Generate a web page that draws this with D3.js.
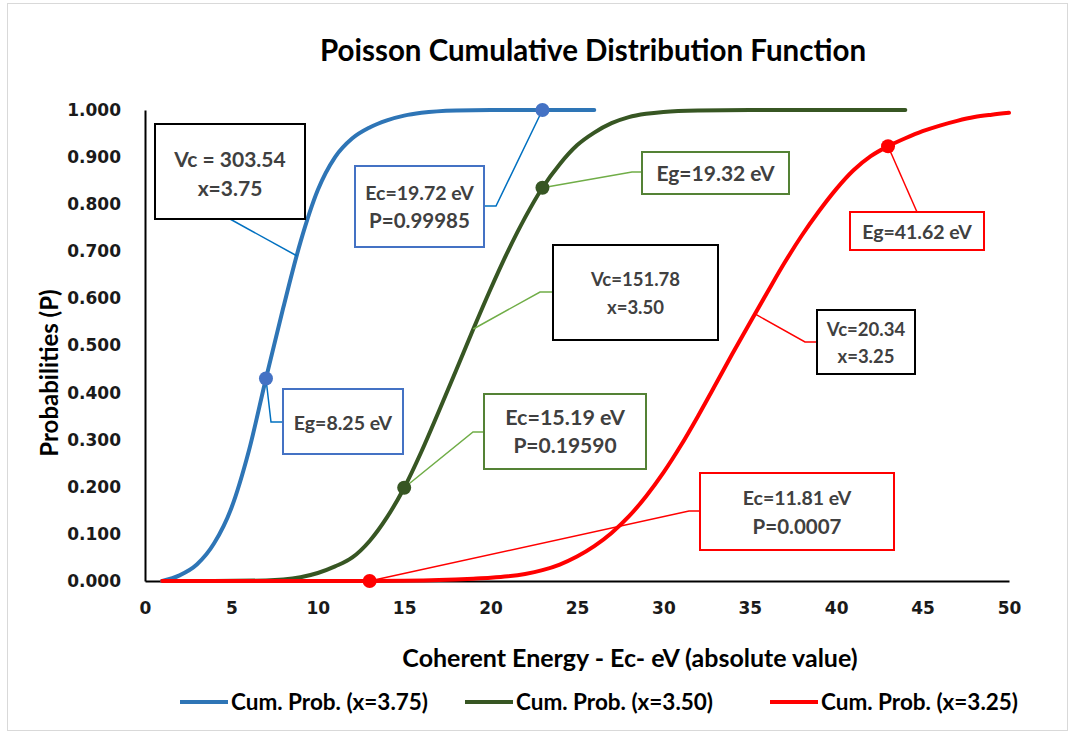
<!DOCTYPE html>
<html lang="en">
<head>
<meta charset="UTF-8">
<title>Poisson CDF</title>
<script src="https://d3js.org/d3.v7.min.js"></script>
<style>
  body { margin: 0; background: #fff; }
  svg text { font-family: "DejaVu Sans", sans-serif; }
  .box text { font-family: Lato, "Open Sans", sans-serif; font-weight: bold; fill: #404040; }
</style>
</head>
<body>
<svg id="chart" width="1071" height="734"></svg>
<script>
// values
const blueX  = [1, 2, 3, 4, 5, 6, 7, 8, 9, 10, 11, 12, 13, 14, 15, 16, 18, 20, 23, 26];
const blueY  = [0, 0.012, 0.035, 0.08, 0.155, 0.275, 0.43, 0.58, 0.72, 0.83, 0.90, 0.94, 0.963, 0.978, 0.988, 0.994, 0.999, 1, 1, 1];
const greenX = [1, 4, 7, 8, 9, 10, 11, 12, 13, 14, 15, 16, 17, 18, 19, 20, 21, 22, 23, 24, 25, 26, 27, 28, 29, 30, 32, 35, 40, 44];
const greenY = [0, 0, 0.001, 0.003, 0.008, 0.017, 0.031, 0.05, 0.085, 0.135, 0.198, 0.275, 0.36, 0.447, 0.535, 0.62, 0.70, 0.772, 0.835, 0.885, 0.925, 0.952, 0.972, 0.985, 0.992, 0.996, 0.999, 1, 1, 1];
const redX   = [1, 5, 10, 13, 15, 17, 19, 20, 21, 22, 23, 24, 25, 26, 27, 28, 29, 30, 31, 32, 33, 34, 35, 36, 37, 38, 39, 40, 41, 42, 43, 44, 45, 46, 47, 48, 49, 50];
const redY   = [0, 0, 0, 0, 0.0005, 0.002, 0.005, 0.007, 0.01, 0.015, 0.023, 0.035, 0.052, 0.074, 0.102, 0.137, 0.18, 0.23, 0.287, 0.35, 0.416, 0.483, 0.548, 0.612, 0.675, 0.733, 0.785, 0.832, 0.872, 0.902, 0.923, 0.94, 0.955, 0.967, 0.977, 0.985, 0.99, 0.994];

const seriesNames = ["Cum. Prob. (x=3.75)", "Cum. Prob. (x=3.50)", "Cum. Prob. (x=3.25)"];
const seriesColors = ["#2e75b6", "#375623", "#ff0000"];

// highlighted points [x, y]
const bluePts  = [[7, 0.43], [23, 1.0]];
const greenPts = [[15, 0.198], [23, 0.835]];
const redPts   = [[13, 0.0], [43, 0.923]];

const xTicks = [0, 5, 10, 15, 20, 25, 30, 35, 40, 45, 50];
const yTicks = [0, 0.1, 0.2, 0.3, 0.4, 0.5, 0.6, 0.7, 0.8, 0.9, 1.0];

const svg = d3.select("#chart");

svg.append("rect").attr("x", 7.5).attr("y", 3.5).attr("width", 1060).attr("height", 727)
  .attr("fill", "#fff").attr("stroke", "#d9d9d9");

const x = d3.scaleLinear().domain([0, 50]).range([145, 1009]);
const y = d3.scaleLinear().domain([0, 1]).range([581, 110]);

// title
svg.append("text").attr("x", 593).attr("y", 61).attr("text-anchor", "middle")
  .style("font-family", "Lato, sans-serif").style("font-weight", "bold").style("font-size", "29.5px")
  .attr("fill", "#000").text("Poisson Cumulative Distribution Function");

// axes
const xAxis = svg.append("g").attr("transform", "translate(0,581)")
  .call(d3.axisBottom(x).tickValues(xTicks).tickSize(0).tickPadding(21).tickFormat(d3.format("d")));
const yAxis = svg.append("g").attr("transform", "translate(145,0)")
  .call(d3.axisLeft(y).tickValues(yTicks).tickSize(0).tickPadding(24).tickFormat(d3.format(".3f")));
[xAxis, yAxis].forEach(g => {
  g.select(".domain").attr("stroke", "#000").attr("stroke-width", 2);
  g.selectAll("text").style("font-family", "DejaVu Sans, sans-serif").style("font-weight", "bold")
    .style("font-size", "17px").attr("fill", "#1a1a1a");
});

// axis titles
svg.append("text").attr("x", 630).attr("y", 667).attr("text-anchor", "middle")
  .style("font-family", "Lato, sans-serif").style("font-weight", "bold").style("font-size", "25px")
  .attr("fill", "#000").text("Coherent Energy - Ec- eV (absolute value)");

svg.append("text").attr("transform", "translate(58,373) rotate(-90)").attr("text-anchor", "middle")
  .style("font-family", "Lato, sans-serif").style("font-weight", "bold").style("font-size", "24px")
  .attr("fill", "#000").text("Probabilities (P)");

// curves
const line = d3.line().x(d => x(d[0])).y(d => y(d[1])).curve(d3.curveMonotoneX);
const curves = [d3.zip(blueX, blueY), d3.zip(greenX, greenY), d3.zip(redX, redY)];
// red on top, as in the picture near zero
[1, 0, 2].forEach(i => {
  svg.append("path").datum(curves[i]).attr("d", line).attr("fill", "none")
    .attr("stroke", seriesColors[i]).attr("stroke-width", 4).attr("stroke-linecap", "round");
});

function callout(b) {
  const g = svg.append("g").attr("class", "box");
  g.append("polyline").attr("points", b.leader.map(p => p.join(",")).join(" "))
    .attr("fill", "none").attr("stroke", b.lineColor).attr("stroke-width", 1.5);
  g.append("rect").attr("x", b.x).attr("y", b.y).attr("width", b.w).attr("height", b.h)
    .attr("fill", "#fff").attr("stroke", b.border).attr("stroke-width", 2);
  b.lines.forEach((ln, i) => {
    g.append("text").attr("x", b.x + b.w / 2).attr("y", b.ty[i]).attr("text-anchor", "middle")
      .style("font-size", b.fs[i] + "px").text(ln);
  });
}

const blueLead = "#0070c0", greenLead = "#70ad47", redLead = "#ff0000";

callout({x: 155, y: 124, w: 150, h: 95, border: "#000", lineColor: blueLead, fs: [21, 21],
  leader: [[230, 219], [x(8.8), y(0.69)]],
  lines: ["Vc = 303.54", "x=3.75"], ty: [167, 196]});
callout({x: 355, y: 166, w: 129, h: 81, border: "#4472c4", lineColor: blueLead, fs: [19.5, 20.5],
  leader: [[484, 206], [496, 206], [x(bluePts[1][0]), y(bluePts[1][1])]],
  lines: ["Ec=19.72 eV", "P=0.99985"], ty: [200, 228]});
callout({x: 283, y: 389, w: 120, h: 65, border: "#4472c4", lineColor: blueLead, fs: [19.5],
  leader: [[283, 422], [271, 422], [x(bluePts[0][0]), y(bluePts[0][1])]],
  lines: ["Eg=8.25 eV"], ty: [430]});
callout({x: 642, y: 152, w: 147, h: 42, border: "#548235", lineColor: greenLead, fs: [21],
  leader: [[642, 172], [632, 172], [x(greenPts[1][0]), y(greenPts[1][1])]],
  lines: ["Eg=19.32 eV"], ty: [181]});
callout({x: 553, y: 245, w: 165, h: 95, border: "#000", lineColor: greenLead, fs: [18.5, 18.5],
  leader: [[553, 292], [540, 292], [x(19), y(0.535)]],
  lines: ["Vc=151.78", "x=3.50"], ty: [286, 314]});
callout({x: 484, y: 394, w: 162, h: 75, border: "#548235", lineColor: greenLead, fs: [21.5, 21],
  leader: [[484, 432], [473, 432], [x(greenPts[0][0]), y(greenPts[0][1])]],
  lines: ["Ec=15.19 eV", "P=0.19590"], ty: [425, 453]});
callout({x: 817, y: 310, w: 98, h: 64, border: "#000", lineColor: redLead, fs: [18.5, 18.5],
  leader: [[817, 342], [805, 342], [x(35.3), y(0.567)]],
  lines: ["Vc=20.34", "x=3.25"], ty: [336, 363]});
callout({x: 850, y: 212, w: 134, h: 38, border: "#ff0000", lineColor: redLead, fs: [19.5],
  leader: [[917, 212], [x(redPts[1][0]), y(redPts[1][1])]],
  lines: ["Eg=41.62 eV"], ty: [239]});
callout({x: 700, y: 473, w: 194, h: 77, border: "#ff0000", lineColor: redLead, fs: [19.5, 20.5],
  leader: [[700, 511], [689, 511], [x(redPts[0][0]), y(redPts[0][1])]],
  lines: ["Ec=11.81 eV", "P=0.0007"], ty: [505, 534]});

// markers
[[bluePts, "#4472c4"], [greenPts, "#375623"], [redPts, "#ff0000"]].forEach(([pts, c]) => {
  svg.selectAll(null).data(pts).enter().append("circle")
    .attr("cx", d => x(d[0])).attr("cy", d => y(d[1])).attr("r", 7).attr("fill", c);
});

// legend
const legendX = [180, 465, 770];
seriesNames.forEach((name, i) => {
  const g = svg.append("g").attr("transform", `translate(${legendX[i]},702)`);
  g.append("line").attr("x1", 0).attr("x2", 48).attr("stroke", seriesColors[i]).attr("stroke-width", 4);
  g.append("text").attr("x", 51).attr("y", 8).style("font-family", "Lato, sans-serif")
    .style("font-weight", "bold").style("font-size", "22.5px").attr("fill", "#000").text(name);
});
</script>
</body>
</html>
